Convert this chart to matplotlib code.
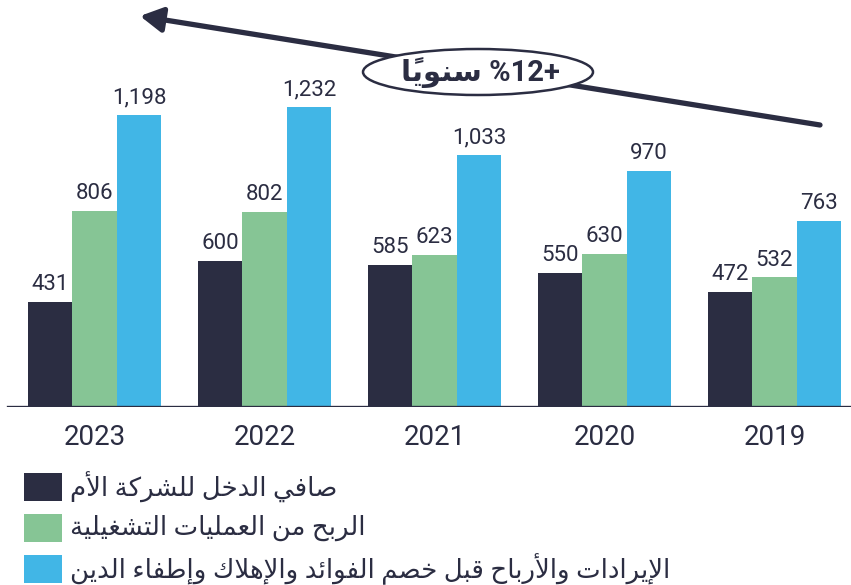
import matplotlib
matplotlib.use("Agg")
import matplotlib.pyplot as plt
from matplotlib.patches import Ellipse, Rectangle
import numpy as np


years = ["2023", "2022", "2021", "2020", "2019"]
net_income = [431, 600, 585, 550, 472]
operating_profit = [806, 802, 623, 630, 532]
ebitda = [1198, 1232, 1033, 970, 763]

series_names = [
    "صافي الدخل للشركة الأم",
    "الربح من العمليات التشغيلية",
    "الإيرادات والأرباح قبل خصم الفوائد والإهلاك وإطفاء الدين",
]
growth_word = "سنويًا"
growth_value = "%12+"

NAVY = "#2b2d42"
GREEN = "#86c595"
BLUE = "#41b6e6"
TEXT = "#2b2d42"
FONTS = ["Roboto", "DejaVu Sans"]

# matplotlib has no arabic shaping, so pick presentation forms by hand
DUAL = {"ئ": 0xFE89, "ب": 0xFE8F, "ت": 0xFE95, "ث": 0xFE99, "ج": 0xFE9D,
        "ح": 0xFEA1, "خ": 0xFEA5, "س": 0xFEB1, "ش": 0xFEB5, "ص": 0xFEB9,
        "ض": 0xFEBD, "ط": 0xFEC1, "ظ": 0xFEC5, "ع": 0xFEC9, "غ": 0xFECD,
        "ف": 0xFED1, "ق": 0xFED5, "ك": 0xFED9, "ل": 0xFEDD, "م": 0xFEE1,
        "ن": 0xFEE5, "ه": 0xFEE9, "ي": 0xFEF1}
RIGHT = {"آ": 0xFE81, "أ": 0xFE83, "ؤ": 0xFE85, "إ": 0xFE87, "ا": 0xFE8D,
         "ة": 0xFE93, "د": 0xFEA9, "ذ": 0xFEAB, "ر": 0xFEAD, "ز": 0xFEAF,
         "و": 0xFEED, "ى": 0xFEEF}
LAM_ALEF = {"آ": 0xFEF5, "أ": 0xFEF7, "إ": 0xFEF9, "ا": 0xFEFB}


def shape_ar(text):
    units = []
    i = 0
    while i < len(text):
        ch = text[i]
        if "\u064b" <= ch <= "\u0652" and units:
            units[-1][1] += ch
        elif ch == "ل" and i + 1 < len(text) and text[i + 1] in LAM_ALEF:
            units.append([LAM_ALEF[text[i + 1]], "", "R"])
            i += 1
        elif ch in DUAL:
            units.append([DUAL[ch], "", "D"])
        elif ch in RIGHT:
            units.append([RIGHT[ch], "", "R"])
        elif ch == "ء":
            units.append([0xFE80, "", "N"])
        else:
            units.append([ord(ch), "", "N"])
        i += 1

    out = []
    for k, (base, marks, kind) in enumerate(units):
        prev = units[k - 1][2] if k > 0 else "N"
        nxt = units[k + 1][2] if k + 1 < len(units) else "N"
        if kind == "N":
            out.append(chr(base) + marks)
            continue
        p = prev == "D"
        n = kind == "D" and nxt in ("D", "R")
        if kind == "D":
            off = {(False, False): 0, (True, False): 1,
                   (False, True): 2, (True, True): 3}[(p, n)]
        else:
            off = 1 if p else 0
        # marks go in front of the base so they land on it once reversed
        out.append(marks + chr(base + off))
    return "".join(reversed(out))


W, H = 851, 585
fig = plt.figure(figsize=(W / 100, H / 100), dpi=100)

# axes spans full width, baseline at y=407px
base_px = 407
ax = fig.add_axes([0, (H - base_px) / H, 1, base_px / H])

group_px = 170
center0 = 94.5
bar_w = 44.5 / group_px
ax.set_xlim(-center0 / group_px, (W - center0) / group_px)
px_per_unit = 300 / 1232
ax.set_ylim(0, base_px / px_per_unit)

x = np.arange(len(years))
for offset, vals, color in [(-1, net_income, NAVY),
                            (0, operating_profit, GREEN),
                            (1, ebitda, BLUE)]:
    bars = ax.bar(x + offset * bar_w, vals, width=bar_w, color=color,
                  edgecolor="none", zorder=2)
    for b, v in zip(bars, vals):
        ax.annotate(f"{v:,}", (b.get_x() + b.get_width() / 2, v),
                    xytext=(0, 8.5), textcoords="offset points",
                    ha="center", va="baseline", fontsize=16,
                    family=FONTS, color=TEXT)

ax.axhline(0, xmin=8 / W, xmax=1, color=NAVY, lw=2.4, zorder=3)

ax.set_xticks(x)
ax.set_xticklabels(years, fontsize=20, family=FONTS, color=TEXT)
ax.tick_params(axis="x", length=0, pad=12)
ax.set_yticks([])
for s in ax.spines.values():
    s.set_visible(False)

# trend arrow
ax.annotate("", xy=(140 / W, 1 - 16 / H), xycoords="figure fraction",
            xytext=(820 / W, 1 - 125 / H), textcoords="figure fraction",
            arrowprops=dict(arrowstyle="-|>,head_length=0.9,head_width=0.5",
                            lw=3.8, color=NAVY, shrinkA=0, shrinkB=0,
                            mutation_scale=15),
            annotation_clip=False)

ell = Ellipse((478 / W, 1 - 72 / H), 230 / W, 46 / H,
              transform=fig.transFigure, facecolor="white",
              edgecolor=NAVY, lw=1.8, zorder=5)
fig.add_artist(ell)
fig.text(480 / W, 1 - 73 / H, shape_ar(growth_word) + " " + growth_value,
         ha="center", va="center", fontsize=21, fontweight="bold",
         family=FONTS, color=NAVY, zorder=6)

# legend, drawn by hand so the swatches sit where they do in the original
row_y = [487, 528, 569]
for name, color, yc in zip(series_names, [NAVY, GREEN, BLUE], row_y):
    fig.add_artist(Rectangle((24 / W, 1 - (yc + 14) / H), 38 / W, 28 / H,
                             transform=fig.transFigure, facecolor=color,
                             edgecolor="none"))
    fig.text(70 / W, 1 - yc / H, shape_ar(name), ha="left", va="center",
             fontsize=18.7, family=FONTS, color=TEXT)

fig.savefig("out.png", dpi=100)
